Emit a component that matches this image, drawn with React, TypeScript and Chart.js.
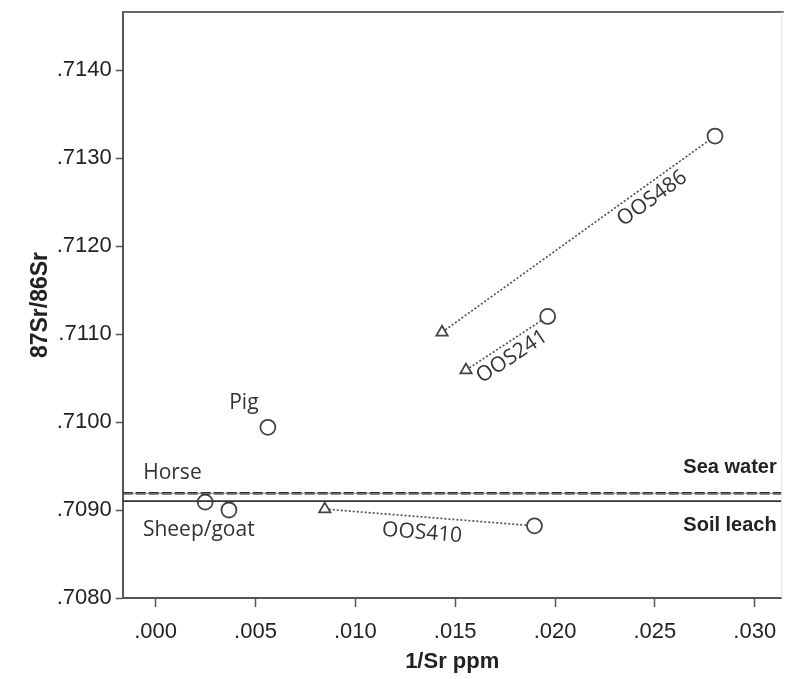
import React, { useEffect, useRef } from 'react';
import { Chart, registerables } from 'chart.js';

Chart.register(...registerables);

// ---- data ----
const xTicks = [0, 0.005, 0.01, 0.015, 0.02, 0.025, 0.03];
const yTicks = [0.708, 0.709, 0.71, 0.711, 0.712, 0.713, 0.714];
const xRange = [-0.00165, 0.03135];
const yRange = [0.708, 0.71466];

const sampleNames = ['Horse', 'Sheep/goat', 'Pig'];
const sampleX = [0.00248, 0.00367, 0.00562];
const sampleY = [0.70909, 0.709, 0.70994];

const pairNames = ['OOS410', 'OOS241', 'OOS486'];
const triangleX = [0.00847, 0.01554, 0.01434];
const triangleY = [0.70901, 0.71059, 0.71102];
const circleX = [0.01897, 0.01963, 0.02801];
const circleY = [0.70882, 0.7112, 0.71325];

const refNames = ['Sea water', 'Soil leach'];
const refValues = [0.70919, 0.7091];

const xTitle = '1/Sr ppm';
const yTitle = '87Sr/86Sr';

const fmtX = (v: number) => v.toFixed(3).replace(/^0/, '');
const fmtY = (v: number) => v.toFixed(4).replace(/^0/, '');

const sampleLabelPlacement: Record<string, { dx: number; dy: number; align: CanvasTextAlign }> = {
  Horse: { dx: -62, dy: -29, align: 'left' },
  'Sheep/goat': { dx: -86, dy: 20, align: 'left' },
  Pig: { dx: -24, dy: -24, align: 'center' },
};
const pairLabelPlacement: Record<string, { t: number; d: number }> = {
  OOS410: { t: 0.47, d: 16 },
  OOS241: { t: 0.47, d: 14 },
  OOS486: { t: 0.74, d: 14 },
};

const labelPlugin = {
  id: 'labelPlugin',
  afterDatasetsDraw(chart: any) {
    const { ctx, chartArea, scales } = chart;
    const xs = scales.x;
    const ys = scales.y;
    ctx.save();
    // frame top & right
    ctx.strokeStyle = '#666';
    ctx.lineWidth = 2;
    ctx.beginPath();
    ctx.moveTo(chartArea.left, chartArea.top);
    ctx.lineTo(chartArea.right + 2, chartArea.top);
    ctx.stroke();
    ctx.strokeStyle = '#e4e4e4';
    ctx.lineWidth = 1;
    ctx.beginPath();
    ctx.moveTo(chartArea.right, chartArea.top);
    ctx.lineTo(chartArea.right, chartArea.bottom);
    ctx.stroke();

    // sample labels
    ctx.font = '21px "Open Sans"';
    ctx.fillStyle = '#333';
    ctx.textBaseline = 'middle';
    sampleNames.forEach((name, i) => {
      const p = sampleLabelPlacement[name];
      ctx.textAlign = p.align;
      ctx.fillText(name, xs.getPixelForValue(sampleX[i]) + p.dx, ys.getPixelForValue(sampleY[i]) + p.dy);
    });

    // pair labels along the segments
    pairNames.forEach((name, i) => {
      const x0 = xs.getPixelForValue(triangleX[i]);
      const y0 = ys.getPixelForValue(triangleY[i]);
      const x1 = xs.getPixelForValue(circleX[i]);
      const y1 = ys.getPixelForValue(circleY[i]);
      const len = Math.hypot(x1 - x0, y1 - y0);
      const ux = (x1 - x0) / len;
      const uy = (y1 - y0) / len;
      const p = pairLabelPlacement[name];
      const cx = x0 + (x1 - x0) * p.t - uy * p.d;
      const cy = y0 + (y1 - y0) * p.t + ux * p.d;
      ctx.save();
      ctx.translate(cx, cy);
      ctx.rotate(Math.atan2(uy, ux));
      ctx.textAlign = 'center';
      ctx.fillText(name, 0, 0);
      ctx.restore();
    });

    // reference line labels
    ctx.font = 'bold 20px "Liberation Sans", Arial, sans-serif';
    ctx.fillStyle = '#222';
    ctx.textAlign = 'right';
    const rx = chartArea.right - 5;
    ctx.fillText(refNames[0], rx, ys.getPixelForValue(refValues[0]) - 26);
    ctx.fillText(refNames[1], rx, ys.getPixelForValue(refValues[1]) + 24);
    ctx.restore();
  },
};

export default function App() {
  const ref = useRef<HTMLCanvasElement | null>(null);
  useEffect(() => {
    document.body.style.margin = '0';
    const canvas = ref.current!;
    const lineColor = '#444';
    const refLine = (v: number) => [
      { x: xRange[0], y: v },
      { x: xRange[1], y: v },
    ];
    const datasets: any[] = [
      {
        type: 'line',
        data: refLine(refValues[0]),
        borderColor: '#8a8a8a',
        borderWidth: 1,
        pointRadius: 0,
      },
      {
        type: 'line',
        data: refLine(refValues[0]),
        borderColor: '#111',
        borderWidth: 2.6,
        borderDash: [10, 3],
        pointRadius: 0,
      },
      {
        type: 'line',
        data: refLine(refValues[1]),
        borderColor: '#333',
        borderWidth: 1.8,
        pointRadius: 0,
      },
      ...pairNames.map((name, i) => ({
        type: 'line',
        label: name,
        data: [
          { x: triangleX[i], y: triangleY[i] },
          { x: circleX[i], y: circleY[i] },
        ],
        borderColor: '#555',
        borderWidth: 1.7,
        borderDash: [2, 2],
        pointStyle: ['triangle', 'circle'],
        pointRadius: [6.5, 7.5],
        pointBorderColor: lineColor,
        pointBorderWidth: 1.8,
        pointBackgroundColor: '#fff',
      })),
      {
        type: 'scatter',
        data: sampleX.map((x, i) => ({ x, y: sampleY[i] })),
        pointStyle: 'circle',
        pointRadius: 7.5,
        pointBorderColor: lineColor,
        pointBorderWidth: 1.8,
        pointBackgroundColor: '#fff',
        showLine: false,
      },
    ];
    const tickFont = { family: '"Liberation Sans", Arial, sans-serif', size: 22 };
    const titleFont = { family: '"Liberation Sans", Arial, sans-serif', size: 22, weight: 'bold' as const };
    const chart = new Chart(canvas, {
      type: 'scatter',
      data: { datasets },
      options: {
        animation: false,
        responsive: false,
        devicePixelRatio: 1,
        layout: { padding: { top: 12, right: 1, left: 0, bottom: 0 } },
        plugins: { legend: { display: false }, tooltip: { enabled: false } },
        scales: {
          x: {
            type: 'linear',
            min: xRange[0],
            max: xRange[1],
            afterBuildTicks: (s: any) => {
              s.ticks = xTicks.map((v) => ({ value: v }));
            },
            afterFit: (s: any) => {
              s.height = 81;
              s.paddingLeft = 0;
              s.paddingRight = 0;
            },
            ticks: {
              callback: (v: any) => fmtX(Number(v)),
              font: tickFont,
              color: '#222',
              padding: 12,
              maxRotation: 0,
            },
            grid: { drawOnChartArea: false, tickLength: 9, tickColor: '#555', tickWidth: 1.5 },
            border: { color: '#555', width: 2 },
            title: { display: true, text: xTitle, font: titleFont, color: '#222', padding: { top: 0, bottom: 4 } },
          },
          y: {
            type: 'linear',
            min: yRange[0],
            max: yRange[1],
            afterBuildTicks: (s: any) => {
              s.ticks = yTicks.map((v) => ({ value: v }));
            },
            afterFit: (s: any) => {
              s.width = 122.7;
              s.paddingTop = 0;
              s.paddingBottom = 0;
            },
            ticks: {
              callback: (v: any) => fmtY(Number(v)),
              font: tickFont,
              color: '#222',
              padding: 4,
            },
            grid: { drawOnChartArea: false, tickLength: 7, tickColor: '#555', tickWidth: 1.5 },
            border: { color: '#555', width: 2 },
            title: {
              display: true,
              text: yTitle,
              font: { ...titleFont, size: 23 },
              color: '#222',
              padding: { top: 27, bottom: 0 },
            },
          },
        },
      },
      plugins: [labelPlugin],
    });
    return () => chart.destroy();
  }, []);
  return (
    <div style={{ position: 'relative', width: 791, height: 679 }}>
      <canvas ref={ref} width={791} height={679} style={{ display: 'block', width: 791, height: 679 }} />
    </div>
  );
}
